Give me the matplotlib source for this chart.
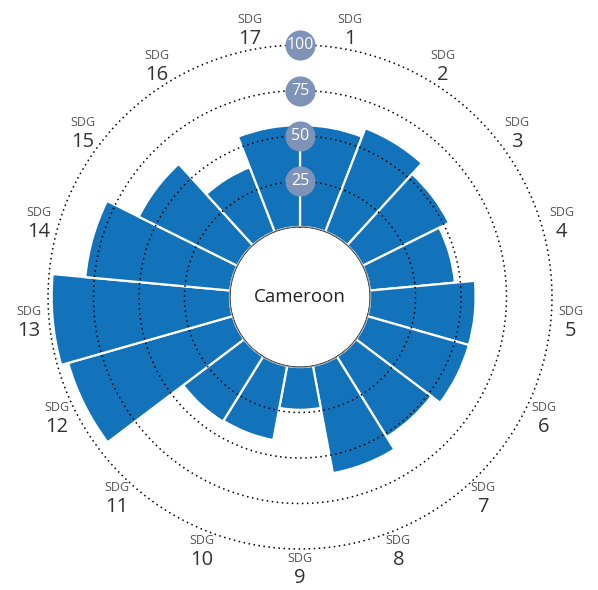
import numpy as np
import matplotlib.pyplot as plt

goals = ['1', '2', '3', '4', '5', '6', '7', '8', '9', '10', '11', '12', '13', '14', '15', '16', '17']
scores = [56, 61, 53, 47, 58, 58, 52, 60, 23.5, 41.5, 42, 94, 98, 80, 60.5, 38, 56]
rings = [25, 50, 75, 100]
country = 'Cameroon'

plt.rcParams['font.family'] = ['Open Sans', 'DejaVu Sans']

fig = plt.figure(figsize=(5.98, 5.9), dpi=100)
ax = fig.add_axes([0.0803, 0.0695, 0.8428, 0.8542], projection='polar')
ax.set_theta_zero_location('N')
ax.set_theta_direction(-1)
ax.set_rorigin(-38.5)
ax.set_ylim(0, 100)

n = len(goals)
width = 2 * np.pi / n
theta = (np.arange(n) + 0.5) * width
ax.bar(theta, scores, width=width, bottom=0, color='#1272ba',
       edgecolor='white', linewidth=1.6, zorder=2)

# dotted rings on top of the bars
t = np.linspace(0, 2 * np.pi, 400)
for r in rings:
    ax.plot(t, np.full_like(t, r), color='black', lw=1.1,
            linestyle=(0, (1, 2.3)), zorder=3, clip_on=False)

# edge of the centre hole
ax.plot(t, np.zeros_like(t), color='#c8c8c8', lw=0.7, zorder=3)

# ring value badges
ax.scatter(np.zeros(len(rings)), rings, s=470, color='#7f93b9',
           zorder=4, clip_on=False, linewidths=0)
for r in rings:
    ax.text(0, r, str(r), color='white', fontsize=11.5, ha='center',
            va='center', zorder=5)

# goal labels around the outside
for th, g in zip(theta, goals):
    ax.annotate('SDG', xy=(th, 111), xytext=(0, 7.5), textcoords='offset points',
                ha='center', va='center', fontsize=9, color='#555555',
                annotation_clip=False)
    ax.annotate(g, xy=(th, 111), xytext=(0, -6.5), textcoords='offset points',
                ha='center', va='center', fontsize=14.5, color='#333333',
                annotation_clip=False)

ax.text(0, -38.5, country, ha='center', va='center', fontsize=13.5, color='#222222')

ax.grid(False)
ax.set_xticks([])
ax.set_yticks([])
ax.spines['polar'].set_visible(False)

fig.savefig('out.png', dpi=100)
